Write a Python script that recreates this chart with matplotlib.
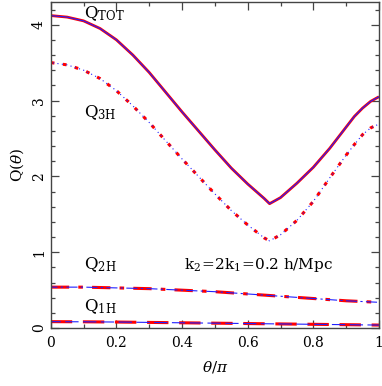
"""
Reduced bispectrum Q(theta) for k2 = 2 k1 = 0.2 h/Mpc,
split into 1-halo, 2-halo and 3-halo terms.
"""

import numpy as np
import matplotlib.pyplot as plt
from matplotlib.ticker import MultipleLocator

# ---------------------------------------------------------------------------
# Data (theta in units of pi)
# ---------------------------------------------------------------------------
theta = [0.0, 0.05, 0.10, 0.15, 0.20, 0.25, 0.30, 0.35, 0.40, 0.45, 0.50,
         0.55, 0.60, 0.65, 0.6667, 0.70, 0.75, 0.80, 0.85, 0.90, 0.925,
         0.95, 0.975, 1.0]
q_tot = [4.12, 4.10, 4.05, 3.95, 3.80, 3.60, 3.37, 3.11, 2.85, 2.60, 2.35,
         2.11, 1.90, 1.71, 1.64, 1.72, 1.91, 2.12, 2.37, 2.65, 2.79,
         2.90, 2.99, 3.05]
q_3h = [3.50, 3.47, 3.40, 3.29, 3.13, 2.93, 2.71, 2.47, 2.23, 2.00, 1.77,
        1.55, 1.36, 1.19, 1.15, 1.23, 1.42, 1.67, 1.98, 2.28, 2.42,
        2.55, 2.64, 2.69]

theta_h = [0.0, 0.1, 0.2, 0.3, 0.4, 0.5, 0.6, 0.7, 0.8, 0.9, 1.0]
q_2h = [0.54, 0.54, 0.53, 0.52, 0.50, 0.48, 0.45, 0.42, 0.39, 0.36, 0.34]
q_1h = [0.085, 0.083, 0.080, 0.075, 0.070, 0.065, 0.060, 0.055, 0.050,
        0.045, 0.040]

plt.rcParams["font.family"] = "DejaVu Serif"
plt.rcParams["mathtext.fontset"] = "dejavuserif"

fig = plt.figure(figsize=(3.82, 3.86), dpi=100)
ax = fig.add_axes([0.133, 0.150, 0.859, 0.845])

RED, BLUE = "#ff0000", "#2020ff"

# each curve drawn twice: thick red underneath, thin blue on top
ax.plot(theta, q_tot, color=RED, lw=2.0, solid_capstyle="butt")
ax.plot(theta, q_tot, color=BLUE, lw=0.8)

ax.plot(theta, q_3h, color=RED, lw=2.2, linestyle=(0, (1.2, 2.8)))
ax.plot(theta, q_3h, color=BLUE, lw=0.8, linestyle=(2, (1.0, 3.0)))

ax.plot(theta_h, q_2h, color=RED, lw=2.2, linestyle=(0, (6, 3, 1.5, 3)))
ax.plot(theta_h, q_2h, color=BLUE, lw=0.8, linestyle=(4, (10, 3, 2, 3)))

ax.plot(theta_h, q_1h, color=RED, lw=2.2, linestyle=(0, (7, 3.5)))
ax.plot(theta_h, q_1h, color=BLUE, lw=0.8, linestyle=(3, (12, 4)))

# curve labels
lab = dict(fontsize=12, ha="left", va="center")
ax.text(0.10, 4.14, r"$\mathrm{Q}_{\mathrm{TOT}}$", **lab)
ax.text(0.10, 2.84, r"$\mathrm{Q}_{\mathrm{3H}}$", **lab)
ax.text(0.10, 0.84, r"$\mathrm{Q}_{\mathrm{2H}}$", **lab)
ax.text(0.10, 0.28, r"$\mathrm{Q}_{\mathrm{1H}}$", **lab)
ax.text(0.405, 0.83, r"$\mathrm{k}_2\!=\!2\mathrm{k}_1\!=\!0.2\ \mathrm{h/Mpc}$",
        fontsize=11, ha="left", va="center")

ax.set_xlim(0, 1)
ax.set_ylim(0, 4.3)
ax.xaxis.set_major_locator(MultipleLocator(0.2))
ax.xaxis.set_minor_locator(MultipleLocator(0.1))
ax.yaxis.set_major_locator(MultipleLocator(1))
ax.yaxis.set_minor_locator(MultipleLocator(0.2))
ax.set_xticks([0, 0.2, 0.4, 0.6, 0.8, 1.0])
ax.set_xticklabels(["0", "0.2", "0.4", "0.6", "0.8", "1"])

ax.tick_params(which="both", direction="in", top=True, right=True,
               color="#444444", labelsize=10)
ax.tick_params(which="major", length=6, width=0.9)
ax.tick_params(which="minor", length=3, width=0.9)
ax.tick_params(axis="x", pad=6)
for lbl in ax.get_yticklabels():
    lbl.set_rotation(90)
    lbl.set_va("center")
for sp in ax.spines.values():
    sp.set_color("#444444")
    sp.set_linewidth(1.0)

ax.set_xlabel(r"$\theta/\pi$", fontsize=11, labelpad=6)
ax.set_ylabel(r"$\mathrm{Q}(\theta)$", fontsize=11, labelpad=4)

fig.savefig("out.png", dpi=100)
